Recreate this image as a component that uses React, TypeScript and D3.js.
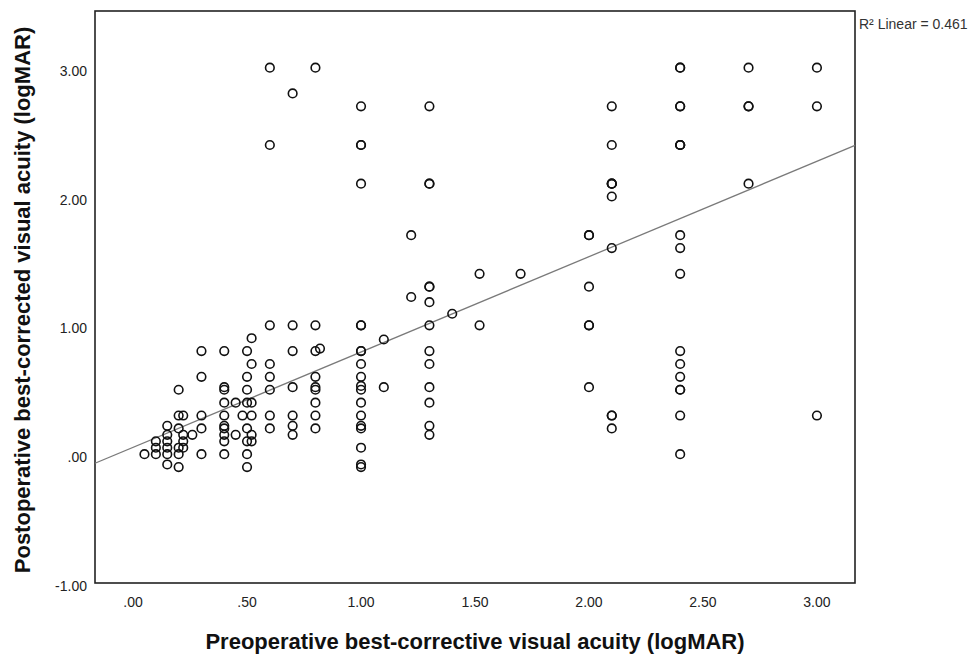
import * as d3 from "d3";
import { useEffect } from "react";

// preoperative logMAR levels (x) and the postoperative values seen at each level (y)
const preopLevels = [
  0.05, 0.1, 0.15, 0.2, 0.22, 0.26, 0.3, 0.4, 0.45, 0.48, 0.5, 0.52, 0.6, 0.7, 0.8, 0.82,
  1.0, 1.1, 1.22, 1.3, 1.4, 1.52, 1.7, 2.0, 2.1, 2.4, 2.7, 3.0,
];
const postopByLevel = [
  [0],
  [0.1, 0.05, 0],
  [0.22, 0.15, 0.1, 0.05, 0, -0.08],
  [0.5, 0.3, 0.2, 0.05, 0, -0.1],
  [0.3, 0.15, 0.1, 0.05],
  [0.15],
  [0.8, 0.6, 0.3, 0.2, 0],
  [0.8, 0.52, 0.5, 0.4, 0.3, 0.22, 0.2, 0.15, 0.1, 0],
  [0.4, 0.15],
  [0.3],
  [0.8, 0.6, 0.5, 0.4, 0.2, 0.1, 0, -0.1],
  [0.9, 0.7, 0.4, 0.3, 0.15, 0.1],
  [3.0, 2.4, 1.0, 0.7, 0.6, 0.5, 0.3, 0.2],
  [2.8, 1.0, 0.8, 0.52, 0.3, 0.22, 0.15],
  [3.0, 1.0, 0.8, 0.6, 0.52, 0.5, 0.4, 0.3, 0.2],
  [0.82],
  [2.7, 2.4, 2.4, 2.1, 1.0, 1.0, 0.8, 0.8, 0.7, 0.6, 0.53, 0.5, 0.4, 0.3, 0.22, 0.2, 0.05, -0.08, -0.1],
  [0.89, 0.52],
  [1.7, 1.22],
  [2.7, 2.1, 2.1, 1.3, 1.3, 1.18, 1.0, 0.8, 0.7, 0.52, 0.4, 0.22, 0.15],
  [1.09],
  [1.4, 1.0],
  [1.4],
  [1.7, 1.7, 1.3, 1.0, 1.0, 0.52],
  [2.7, 2.4, 2.1, 2.1, 2.1, 2.0, 1.6, 0.3, 0.3, 0.2],
  [3.0, 3.0, 2.7, 2.7, 2.4, 2.4, 2.4, 1.7, 1.6, 1.4, 0.8, 0.7, 0.6, 0.5, 0.5, 0.3, 0],
  [3.0, 2.7, 2.7, 2.1],
  [3.0, 2.7, 0.3],
];

const xTicks = [0, 0.5, 1, 1.5, 2, 2.5, 3];
const yTicks = [-1, 0, 1, 2, 3];

// fit line as printed by SPSS
const fitIntercept = 0.053;
const fitSlope = 0.74;
const r2Label = "R\u00b2 Linear = 0.461";

const points = preopLevels.flatMap((x, i) => postopByLevel[i].map(y => ({ x, y })));

const W = 976;
const H = 655;
const plot = { left: 95, right: 855, top: 11, bottom: 583 };

// SPSS style: ".50", "-1.00"
const fmt = (v: number) =>
  v
    .toFixed(2)
    .replace(/^0\./, ".")
    .replace(/^-0\./, "-.");

export default function App() {
  useEffect(() => {
    document.body.style.margin = "0";
  }, []);

  const x = d3.scaleLinear().domain([-0.167, 3.167]).range([plot.left, plot.right]);
  const y = d3.scaleLinear().domain([-1, 3.44]).range([plot.bottom, plot.top]);

  const [x0, x1] = x.domain();
  const fitLine = d3
    .line<number>()
    .x(d => x(d))
    .y(d => y(fitIntercept + fitSlope * d))([x0, x1]);

  const font = "Arial, 'Liberation Sans', sans-serif";

  return (
    <svg width={W} height={H} style={{ display: "block", background: "#fff" }} fontFamily={font}>
      <rect
        x={plot.left}
        y={plot.top}
        width={plot.right - plot.left}
        height={plot.bottom - plot.top}
        fill="none"
        stroke="#222"
        strokeWidth={1.6}
      />

      {yTicks.map(t => (
        <text key={"y" + t} x={87} y={y(t) + 8} textAnchor="end" fontSize={14} fill="#222">
          {fmt(t)}
        </text>
      ))}
      {xTicks.map(t => (
        <text key={"x" + t} x={x(t)} y={607} textAnchor="middle" fontSize={14} fill="#222">
          {fmt(t)}
        </text>
      ))}

      <path d={fitLine ?? ""} stroke="#7a7a7a" strokeWidth={1.3} fill="none" />

      {points.map((p, i) => (
        <circle key={i} cx={x(p.x)} cy={y(p.y)} r={4.3} fill="none" stroke="#111" strokeWidth={1.6} />
      ))}

      <text x={859} y={29} fontSize={14} fill="#333">
        {r2Label}
      </text>

      <text x={475} y={649} textAnchor="middle" fontSize={22} fontWeight="bold" fill="#111">
        Preoperative best-corrective visual acuity (logMAR)
      </text>
      <text
        transform="translate(30,300) rotate(-90)"
        textAnchor="middle"
        fontSize={22}
        fontWeight="bold"
        fill="#111"
      >
        Postoperative best-corrected visual acuity (logMAR)
      </text>
    </svg>
  );
}
